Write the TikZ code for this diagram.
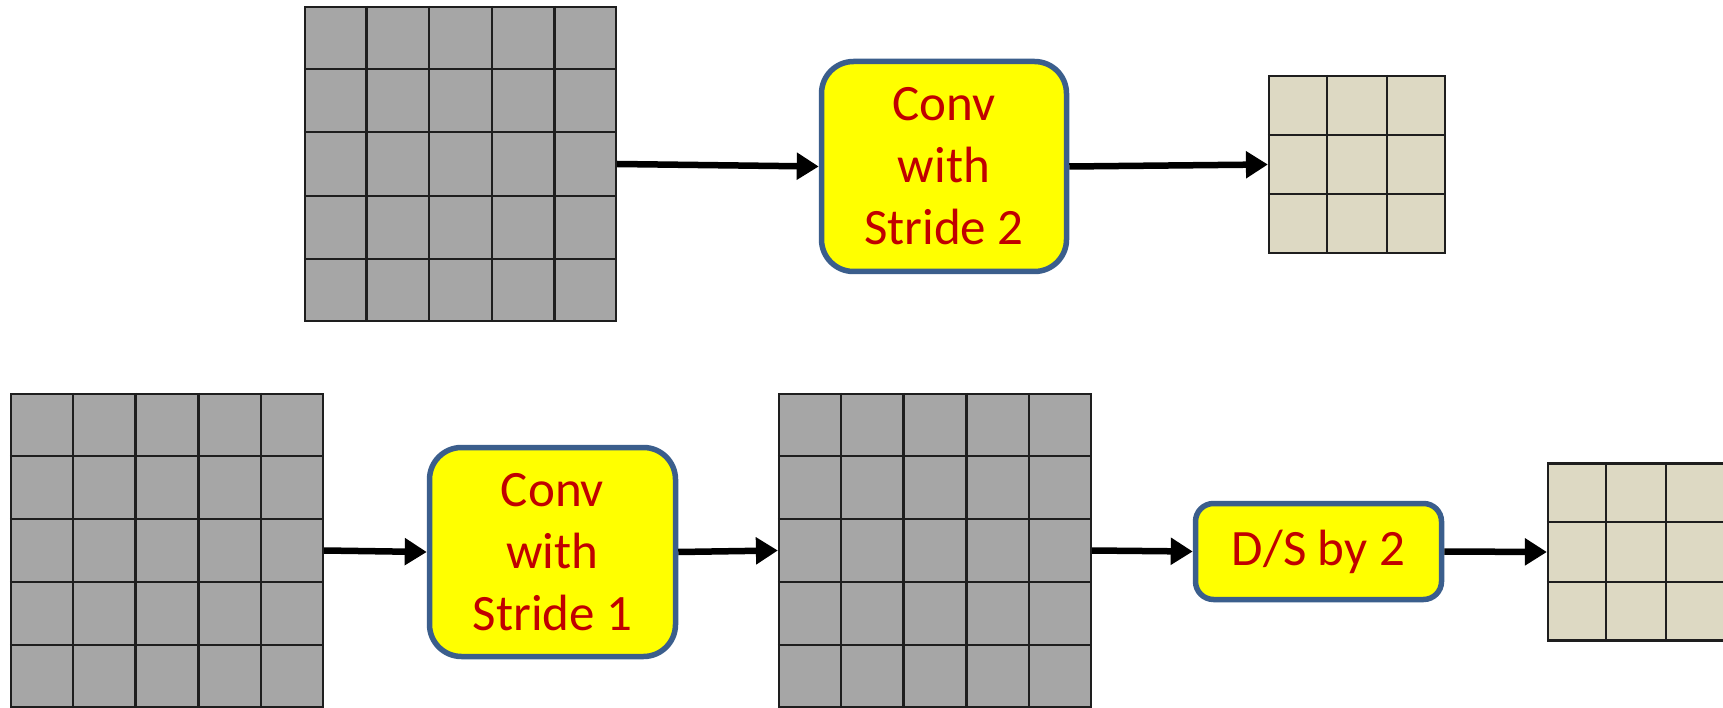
\documentclass[tikz,border=0pt]{standalone}
\usepackage{fontspec}
\setmainfont{Carlito}
\usetikzlibrary{arrows.meta,calc}
\definecolor{cellgray}{HTML}{A6A6A6}
\definecolor{cellbeige}{HTML}{DDD9C3}
\definecolor{boxyellow}{HTML}{FFFF00}
\definecolor{boxborder}{HTML}{3B5E8C}
\definecolor{txtred}{HTML}{C00000}
\definecolor{gridink}{HTML}{1E1E1E}
\begin{document}
\begin{tikzpicture}[x=1pt,y=-1pt,
  gridbox/.style={draw=gridink, line width=2.2pt, inner sep=0pt},
  gridline/.style={draw=gridink, line width=2.2pt},
  procbox/.style={draw=boxborder, fill=boxyellow, line width=5.5pt, rounded corners=32pt,
    inner sep=0pt, align=center, text=txtred, font=\fontsize{51}{62}\selectfont},
  flow/.style={line width=6.5pt, -{Triangle[length=22pt,width=26pt]}}]
\clip (0,0) rectangle (1723,708);
\fill[white] (0,0) rectangle (1723,708);
% grids
\node[gridbox, fill=cellgray, minimum width=311pt, minimum height=314pt] (gA) at (460.5,164) {};
\node[gridbox, fill=cellbeige, minimum width=176pt, minimum height=177pt] (gB) at (1357,164.5) {};
\node[gridbox, fill=cellgray, minimum width=312pt, minimum height=313pt] (gC) at (167,550.5) {};
\node[gridbox, fill=cellgray, minimum width=312pt, minimum height=313pt] (gD) at (935,550.5) {};
\node[gridbox, fill=cellbeige, minimum width=176pt, minimum height=177pt] (gE) at (1636,552) {};
\foreach \n/\k in {gA/5,gB/3,gC/5,gD/5,gE/3}{
  \pgfmathtruncatemacro\m{\k-1}
  \foreach \i in {1,...,\m}{
    \draw[gridline] ($(\n.north west)!\i/\k!(\n.north east)$) -- ($(\n.south west)!\i/\k!(\n.south east)$);
    \draw[gridline] ($(\n.north west)!\i/\k!(\n.south west)$) -- ($(\n.north east)!\i/\k!(\n.south east)$);
  }
}
% process boxes
\node[procbox, minimum width=245pt, minimum height=210pt] (b1) at (944,166.5) {Conv\\with\\Stride 2};
\node[procbox, minimum width=246pt, minimum height=209pt] (b2) at (552.5,552) {Conv\\with\\Stride 1};
\node[procbox, rounded corners=18pt, minimum width=246pt, minimum height=96pt] (b3) at (1318.5,551.5) {D/S by 2};
% arrows
\draw[flow] (gA.east) -- (b1.west);
\draw[flow] (b1.east) -- (gB.west);
\draw[flow] (gC.east) -- (b2.west);
\draw[flow] (b2.east) -- (gD.west);
\draw[flow] (gD.east) -- (b3.west);
\draw[flow] (b3.east) -- (gE.west);
\end{tikzpicture}
\end{document}
